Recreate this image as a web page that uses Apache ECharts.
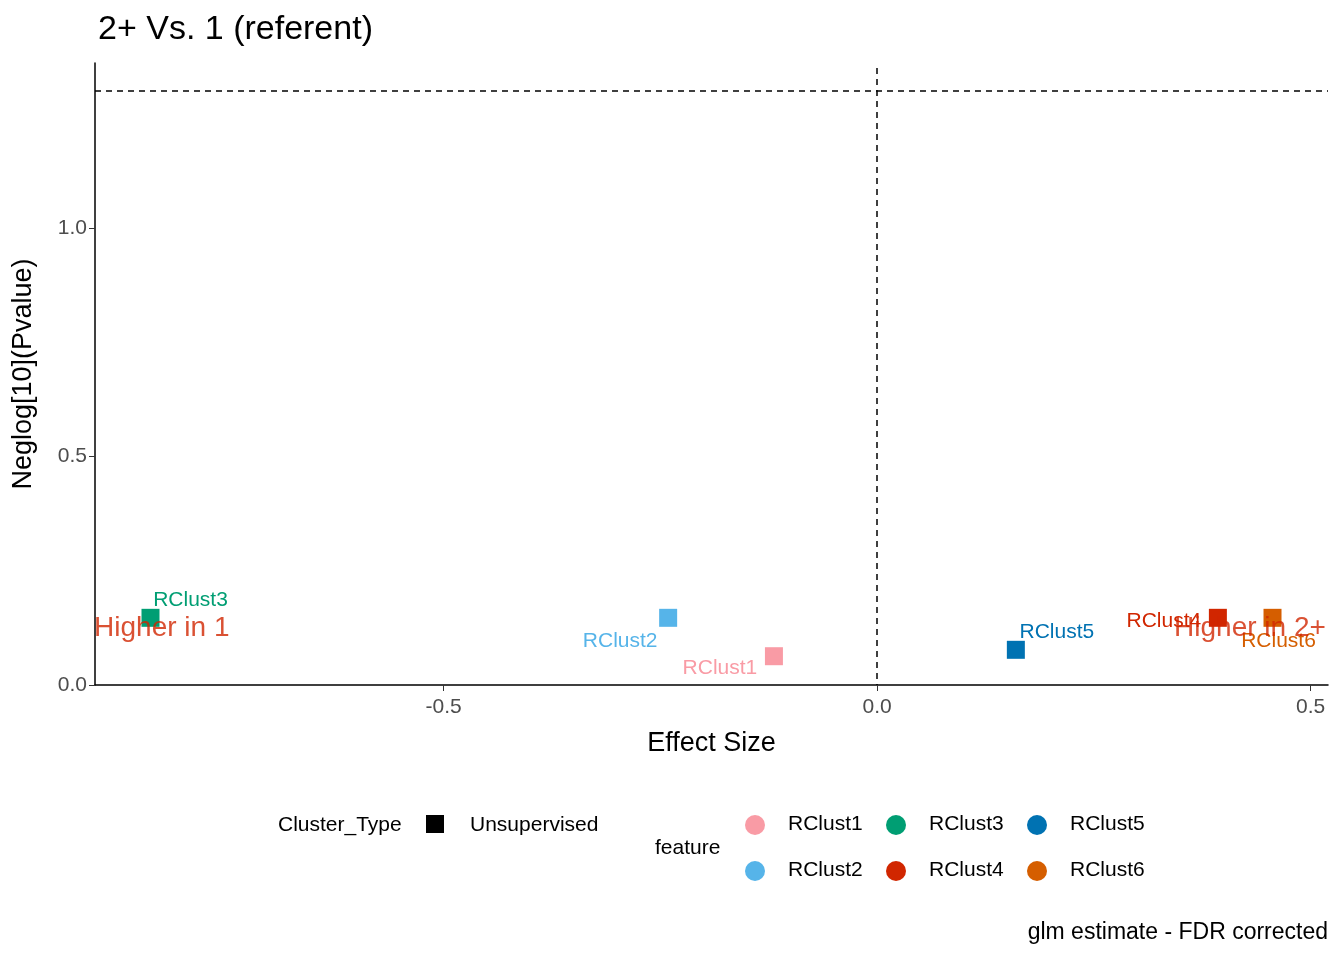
<!DOCTYPE html>
<html><head><meta charset="utf-8">
<script src="https://cdn.jsdelivr.net/npm/echarts@6/dist/echarts.min.js"></script>
<style>html,body{margin:0;background:#fff}#c{width:1344px;height:960px}</style>
</head><body><div id="c"></div>
<script>
const features = ["RClust1","RClust2","RClust3","RClust4","RClust5","RClust6"];
const effectSize = [-0.119,-0.241,-0.838,0.393,0.160,0.456];
const neglogP = [0.063,0.147,0.147,0.147,0.077,0.147];
const colors = ["#F99BA5","#56B4E9","#009E73","#D12600","#0072B2","#D55E00"];
const xTicks = [-0.5,0.0,0.5];
const yTicks = [0.0,0.5,1.0];
const sigLine = 1.301;

const labelOffsets = {RClust1:[-54,12],RClust2:[-48,23],RClust3:[40,-18],RClust4:[-54,3],RClust5:[41,-18],RClust6:[6,23]};
const F = 'Arial, "Liberation Sans", sans-serif';
const chart = echarts.init(document.getElementById('c'));
const series = features.map((f,i)=>({
  type:'scatter', name:f, symbol:'rect', symbolSize:18,
  itemStyle:{color:colors[i], opacity:1},
  data:[[effectSize[i],neglogP[i]]],
  label:{show:true, formatter:f, position:'inside', offset:labelOffsets[f], color:colors[i], fontSize:21, fontFamily:F},
  z:3
}));
series.push({type:'scatter', data:[], markLine:{silent:true, symbol:'none', label:{show:false},
  lineStyle:{type:[6,5], color:'#000', width:1.5},
  data:[[{coord:[0,1.35]},{coord:[0,0]}],{yAxis:sigLine}]}});
series.push({type:'scatter', symbolSize:0, silent:true, z:4,
  data:[{value:[-0.825,0.125],label:{formatter:'Higher in 1'}},{value:[0.43,0.125],label:{formatter:'Higher in 2+'}}],
  label:{show:true, position:'inside', color:'#D12600', fontSize:28, fontFamily:F}});
chart.setOption({
  animation:false,
  title:{text:'2+ Vs. 1 (referent)', left:93, top:8, textStyle:{fontSize:34, fontWeight:'normal', fontFamily:F, color:'#000'}},
  grid:{left:95, right:16, top:63, bottom:275},
  xAxis:{type:'value', min:-0.902, max:0.52, name:'Effect Size', nameLocation:'middle', nameGap:45,
    nameTextStyle:{fontSize:27, color:'#000', fontFamily:F},
    axisLine:{lineStyle:{color:'#000', width:1.5}},
    splitLine:{show:false}, axisLabel:{fontSize:21, color:'#4d4d4d', fontFamily:F, margin:12,
      customValues:xTicks, formatter:v=>v.toFixed(1)},
    axisTick:{show:true, customValues:xTicks, length:6, lineStyle:{color:'#333'}}},
  yAxis:{type:'value', min:0, max:1.361, name:'Neglog[10](Pvalue)', nameLocation:'middle', nameGap:58,
    nameTextStyle:{fontSize:27, color:'#000', fontFamily:F},
    axisLine:{show:true, onZero:false, lineStyle:{color:'#000', width:1.5}}, splitLine:{show:false},
    axisLabel:{fontSize:21, color:'#4d4d4d', fontFamily:F, customValues:yTicks, formatter:v=>v.toFixed(1)},
    axisTick:{show:true, customValues:yTicks, length:6, lineStyle:{color:'#333'}}},
  series:series,
  graphic:[
    {type:'text', left:278, top:815, style:{text:'Cluster_Type', font:'21px '+F, fill:'#000'}},
    {type:'rect', shape:{x:426,y:815,width:18,height:18}, style:{fill:'#000'}},
    {type:'text', left:470, top:815, style:{text:'Unsupervised', font:'21px '+F, fill:'#000'}},
    {type:'text', left:655, top:838, style:{text:'feature', font:'21px '+F, fill:'#000'}},
    ...features.flatMap((f,i)=>{
      const cx = 755 + Math.floor(i/2)*141, cy = i%2===0?825:871;
      return [{type:'circle', shape:{cx:cx, cy:cy, r:10}, style:{fill:colors[i]}},
              {type:'text', left:cx+33, top:cy-11, style:{text:f, font:'21px '+F, fill:'#000'}}];
    }),
    {type:'text', right:16, top:921, style:{text:'glm estimate - FDR corrected', font:'23px '+F, fill:'#000'}}
  ]
});
</script></body></html>
